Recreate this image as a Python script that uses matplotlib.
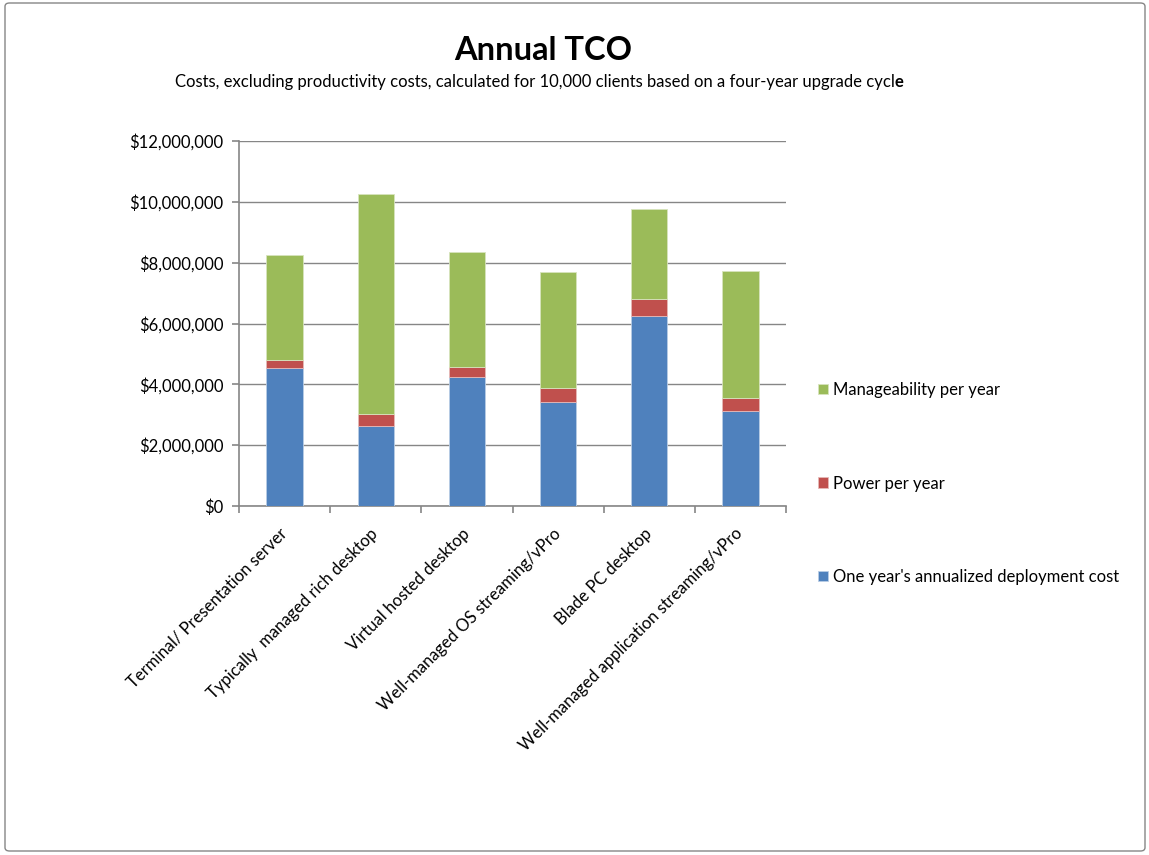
import matplotlib
matplotlib.use("Agg")
from matplotlib import pyplot as plt
from matplotlib.patches import FancyBboxPatch
from matplotlib.ticker import FuncFormatter, FixedLocator
import numpy as np

# Datos
# ========================================
categorias = [
    "Terminal/ Presentation server",
    "Typically  managed rich desktop",
    "Virtual hosted desktop",
    "Well-managed OS streaming/vPro",
    "Blade PC desktop",
    "Well-managed application streaming/vPro",
]
despliegue = [4.55e6, 2.62e6, 4.25e6, 3.43e6, 6.26e6, 3.13e6]   # One year's annualized deployment cost
energia = [0.24e6, 0.40e6, 0.32e6, 0.45e6, 0.55e6, 0.42e6]      # Power per year
gestion = [3.46e6, 7.23e6, 3.77e6, 3.82e6, 2.94e6, 4.18e6]      # Manageability per year

series_labels = ["One year's annualized deployment cost", "Power per year", "Manageability per year"]

# Estilo
# ========================================
plt.rcParams['font.family'] = ['Lato', 'DejaVu Sans']
col_azul = '#4F81BD'
col_rojo = '#C0504D'
col_verde = '#9BBB59'
col_gris = '#868686'

fig = plt.figure(figsize=(11.49, 8.55), dpi=100)
ax = fig.add_axes([239 / 1149, 1 - 506 / 855, (786 - 239) / 1149, (506 - 141) / 855])

x = np.arange(len(categorias))
ancho = 0.4
b1 = ax.bar(x, despliegue, ancho, color=col_azul, edgecolor='#B9CDE5', linewidth=0.6, zorder=3)
b2 = ax.bar(x, energia, ancho, bottom=despliegue, color=col_rojo, edgecolor='#E6B9B8', linewidth=0.6, zorder=3)
base3 = np.array(despliegue) + np.array(energia)
b3 = ax.bar(x, gestion, ancho, bottom=base3, color=col_verde, edgecolor='#D7E4BD', linewidth=0.6, zorder=3)

ax.set_xlim(-0.5, len(categorias) - 0.5)
ax.set_ylim(0, 12e6)
ax.set_yticks(np.arange(0, 12e6 + 1, 2e6))
ax.yaxis.set_major_formatter(FuncFormatter(lambda v, p: "${:,.0f}".format(v)))
ax.grid(axis='y', color=col_gris, linewidth=1.0, zorder=0)

for s in ['top', 'right']:
    ax.spines[s].set_visible(False)
for s in ['left', 'bottom']:
    ax.spines[s].set_color(col_gris)
    ax.spines[s].set_linewidth(1.2)

# Etiquetas del eje X, rotadas
ax.set_xticks(x)
ax.set_xticklabels(categorias, rotation=45, ha='right', va='center', rotation_mode='anchor', fontsize=12)
ax.tick_params(axis='x', which='major', length=0, pad=18)
ax.xaxis.set_minor_locator(FixedLocator(np.arange(-0.5, len(categorias), 1.0)))
ax.tick_params(axis='x', which='minor', length=5, color=col_gris, width=1.2)
ax.tick_params(axis='y', length=5, color=col_gris, width=1.2, labelsize=12, pad=6)

# Títulos
fig.text(543 / 1149, 1 - 50 / 855, "Annual TCO", ha='center', va='center', fontsize=23.5, fontweight='bold')
t1 = fig.text(175 / 1149, 1 - 82 / 855,
              "Costs, excluding productivity costs, calculated for 10,000 clients based on a four-year upgrade cycl",
              ha='left', va='center', fontsize=12)
ax.annotate("e", xy=(1, 0), xycoords=t1, ha='left', va='bottom', fontsize=12, fontweight='bold')

# Leyenda (orden invertido)
leg = fig.legend([b3, b2, b1], series_labels[::-1], loc='upper left',
                 bbox_to_anchor=(803 / 1149, 1 - 367 / 855), frameon=False, fontsize=12,
                 handlelength=0.6, handleheight=0.6, handletextpad=0.3, labelspacing=4.65)

# Marco exterior
borde = FancyBboxPatch((5 / 1149, 4 / 855), 1140 / 1149, 848 / 855,
                       boxstyle="round,pad=0,rounding_size=0.004", transform=fig.transFigure,
                       facecolor='none', edgecolor=col_gris, linewidth=1.0)
fig.patches.append(borde)

fig.savefig("out.png", dpi=100)
